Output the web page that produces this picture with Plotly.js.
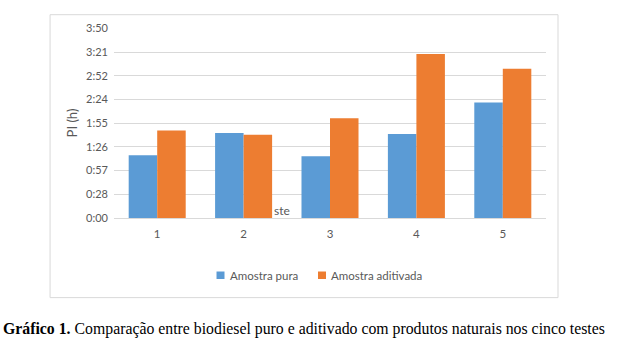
<!DOCTYPE html>
<html>
<head>
<meta charset="utf-8">
<script src="https://cdn.plot.ly/plotly-3.0.1.min.js"></script>
<style>html,body{margin:0;padding:0;background:#fff;}#chart{width:617px;height:355px;}</style>
</head>
<body>
<div id="chart"></div>
<script>
// Categories (test number)
const categories = ["1", "2", "3", "4", "5"];
// Induction period in minutes
const amostraPura = [76, 103, 75, 102, 140];
const amostraAditivada = [106, 101, 121, 199, 181];
// Y tick values (minutes) and their h:mm labels
const yTickVals = [0, 28.75, 57.5, 86.25, 115, 143.75, 172.5, 201.25, 230];
const yTickText = ["0:00", "0:28", "0:57", "1:26", "1:55", "2:24", "2:52", "3:21", "3:50"];
const seriesNames = ["Amostra pura", "Amostra aditivada"];
const seriesColors = ["#5b9bd5", "#ed7d31"];
const caption = "<b>Gráfico 1.</b> Comparação entre biodiesel puro e aditivado com produtos naturais nos cinco testes";

const grey = "#595959";
const fam = "Lato, 'Liberation Sans', sans-serif";

const traces = seriesNames.map((n, i) => ({
  type: "bar", name: n, x: categories, y: i === 0 ? amostraPura : amostraAditivada,
  marker: {color: seriesColors[i]}, hoverinfo: "none", showlegend: false
}));

// custom legend (tight symbol/text spacing as in the reference)
const legendX = [0.2373, 0.4722];
const legendShapes = seriesNames.map((n, i) => ({
  type: "rect", xref: "paper", yref: "paper",
  x0: legendX[i], x1: legendX[i] + 0.0185, y0: -0.321, y1: -0.2816,
  line: {width: 0}, fillcolor: seriesColors[i]
}));
const legendText = seriesNames.map((n, i) => ({
  text: n, xref: "paper", yref: "paper", x: legendX[i] + 0.0255, y: -0.300,
  xanchor: "left", yanchor: "middle", showarrow: false,
  font: {family: fam, size: 11.5, color: grey}
}));

const layout = {
  width: 617, height: 355,
  margin: {l: 114, r: 71, t: 28, b: 137, pad: 0},
  paper_bgcolor: "#fff", plot_bgcolor: "#fff",
  font: {family: fam, size: 11, color: grey},
  barmode: "group", bargap: 0.34, bargroupgap: 0,
  showlegend: false,
  xaxis: {type: "category", range: [-0.5, 4.5], showgrid: false, showline: true,
          linecolor: "#d9d9d9", linewidth: 1, ticks: "", ticklabelstandoff: 5,
          tickfont: {family: fam, size: 11.5, color: grey}, fixedrange: true},
  yaxis: {range: [0, 230.4], tickmode: "array", tickvals: yTickVals, ticktext: yTickText,
          showgrid: true, gridcolor: "#d9d9d9", gridwidth: 1, zeroline: false, showline: false,
          ticks: "", ticklabelstandoff: 5,
          tickfont: {family: fam, size: 11, color: grey},
          title: {text: "PI (h)", standoff: 5, font: {family: fam, size: 13, color: grey}},
          fixedrange: true},
  shapes: [
    {type: "rect", xref: "paper", yref: "paper", x0: -0.148, x1: 1.0278, y0: -0.419, y1: 1.070,
     line: {color: "#d9d9d9", width: 1}, fillcolor: "rgba(0,0,0,0)", layer: "below"}
  ].concat(legendShapes),
  annotations: [
    {text: "ste", xref: "paper", yref: "paper", x: 0.3657, y: 0.041, xanchor: "left", yanchor: "middle",
     showarrow: false, font: {family: fam, size: 12, color: grey}},
    {text: caption, xref: "paper", yref: "paper", x: -0.2616, y: -0.585, xanchor: "left", yanchor: "middle",
     showarrow: false, font: {family: "'Liberation Serif', 'Times New Roman', serif", size: 15.8, color: "#000"}}
  ].concat(legendText)
};

Plotly.newPlot("chart", traces, layout, {displayModeBar: false, staticPlot: true});
</script>
</body>
</html>
